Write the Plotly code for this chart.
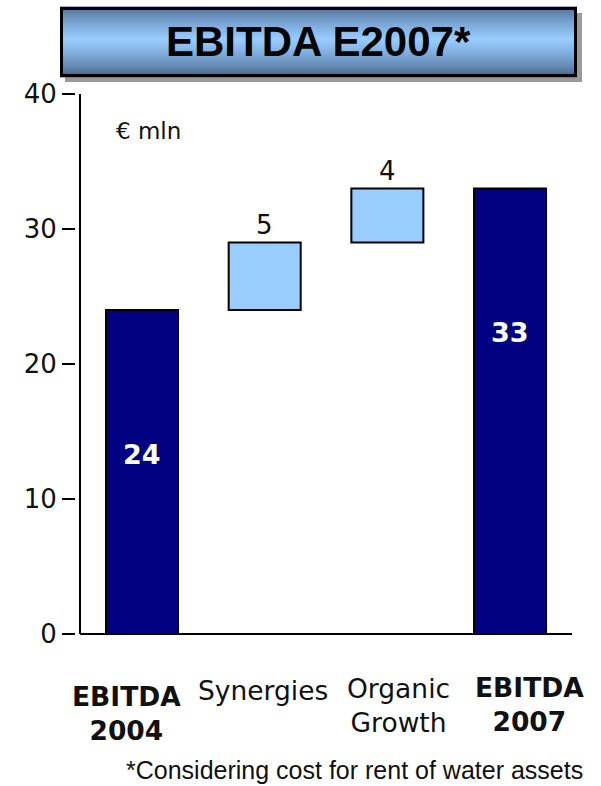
import plotly.graph_objects as go

# ---- data -------------------------------------------------------------
categories = ["EBITDA 2004", "Synergies", "Organic Growth", "EBITDA 2007"]
category_labels = ["<b>EBITDA<br>2004</b>", "Synergies", "Organic<br>Growth", "<b>EBITDA<br>2007</b>"]
values = [24, 5, 4, 33]
measures = ["total", "delta", "delta", "total"]
y_ticks = [0, 10, 20, 30, 40]

# floating bases for the step bars
bases = []
running = 0
for v, m in zip(values, measures):
    if m == "total":
        bases.append(0)
        running = v
    else:
        bases.append(running)
        running += v

# ---- styling ----------------------------------------------------------
W, H = 601, 786
PLOT_L, PLOT_R, PLOT_T, PLOT_B = 76, 572, 94, 634
PLOT_W, PLOT_H = PLOT_R - PLOT_L, PLOT_B - PLOT_T

NAVY = "#000080"
LIGHT = "#99ccff"
bar_colors = [NAVY if m == "total" else LIGHT for m in measures]

SANS = "Verdana, DejaVu Sans, sans-serif"
ARIAL = "Arial, Liberation Sans, sans-serif"

# label placement (style only)
label_xshift = [-16, -2, 11, 19]
label_yshift = [-79.5, -56, -71, -70.5]
inside_label_y = [13.3, None, None, 22.3]


def px_x(px):
    return (px - PLOT_L) / PLOT_W


def px_y(py):
    return (PLOT_B - py) / PLOT_H


fig = go.Figure()
fig.add_trace(
    go.Bar(
        x=categories,
        y=values,
        base=bases,
        width=0.587,
        marker=dict(color=bar_colors, line=dict(color="#000000", width=2)),
        hoverinfo="skip",
    )
)

annotations = []
shapes = []

# value labels
for i, (cat, v, b, m) in enumerate(zip(categories, values, bases, measures)):
    if m == "total":
        annotations.append(dict(
            x=cat, y=inside_label_y[i], xref="x", yref="y", text=f"<b>{v}</b>",
            showarrow=False, font=dict(family=SANS, size=27, color="white"),
            xanchor="center", yanchor="middle",
        ))
    else:
        annotations.append(dict(
            x=cat, y=b + v, xref="x", yref="y", text=str(v),
            showarrow=False, font=dict(family=SANS, size=26, color="#111111"),
            xanchor="center", yanchor="bottom", yshift=1,
        ))

# category labels under the axis
for i, (cat, lab) in enumerate(zip(categories, category_labels)):
    annotations.append(dict(
        x=cat, y=0, xref="x", yref="y", text=lab, showarrow=False,
        font=dict(family=SANS, size=26.5, color="#111111"),
        xanchor="center", yanchor="middle",
        xshift=label_xshift[i], yshift=label_yshift[i],
    ))

# unit label
annotations.append(dict(
    x=px_x(148), y=px_y(131), xref="paper", yref="paper", text="€ mln",
    showarrow=False, font=dict(family=SANS, size=23, color="#111111"),
    xanchor="center", yanchor="middle",
))

# footnote
annotations.append(dict(
    x=px_x(354), y=px_y(770), xref="paper", yref="paper",
    text="*Considering cost for rent of water assets",
    showarrow=False, font=dict(family=ARIAL, size=25, color="#111111"),
    xanchor="center", yanchor="middle",
))

# axis lines
shapes.append(dict(type="line", xref="paper", yref="paper",
                   x0=px_x(80), x1=px_x(80), y0=0, y1=1,
                   line=dict(color="#000000", width=2)))
shapes.append(dict(type="line", xref="paper", yref="paper",
                   x0=px_x(80), x1=1, y0=0, y1=0,
                   line=dict(color="#000000", width=2)))

# title banner: shadow, gradient body, frame
BX0, BX1, BY0, BY1 = 60, 577, 7, 77
shapes.append(dict(type="rect", xref="paper", yref="paper",
                   x0=px_x(BX0 + 5), x1=px_x(BX1 + 5), y0=px_y(BY0 + 6), y1=px_y(BY1 + 5),
                   fillcolor="#9a9a9a", line=dict(width=0)))

dark_top = (70, 100, 138)
dark_bot = (62, 92, 126)
light = (153, 204, 255)
n = 35
step = (BY1 - BY0) / n
for k in range(n):
    t = (k + 0.5) / n
    peak = 0.47
    if t < peak:
        f = t / peak
        c0 = dark_top
    else:
        f = (1 - t) / (1 - peak)
        c0 = dark_bot
    f = f ** 0.7
    col = tuple(int(round(c0[j] + (light[j] - c0[j]) * f)) for j in range(3))
    y0 = BY0 + k * step
    shapes.append(dict(type="rect", xref="paper", yref="paper",
                       x0=px_x(BX0), x1=px_x(BX1),
                       y0=px_y(y0 - 0.4), y1=px_y(y0 + step + 0.4),
                       fillcolor="rgb(%d,%d,%d)" % col, line=dict(width=0)))
shapes.append(dict(type="rect", xref="paper", yref="paper",
                   x0=px_x(BX0 + 1.5), x1=px_x(BX1 - 1.5), y0=px_y(BY0 + 1.5), y1=px_y(BY1 - 1.5),
                   fillcolor="rgba(0,0,0,0)", line=dict(color="#000000", width=3)))

annotations.append(dict(
    x=px_x((BX0 + BX1) / 2), y=px_y(42), xref="paper", yref="paper",
    text="<b>EBITDA E2007*</b>", showarrow=False,
    font=dict(family=ARIAL, size=42, color="#050505"),
    xanchor="center", yanchor="middle",
))

fig.update_layout(
    width=W, height=H, autosize=False,
    margin=dict(l=PLOT_L, r=W - PLOT_R, t=PLOT_T, b=H - PLOT_B, pad=0),
    paper_bgcolor="white", plot_bgcolor="white",
    showlegend=False,
    annotations=annotations,
    shapes=shapes,
    xaxis=dict(
        type="category", range=[-0.538, 3.505],
        showticklabels=False, ticks="", showgrid=False, zeroline=False, showline=False,
    ),
    yaxis=dict(
        range=[0, 40], tickvals=y_ticks, ticks="outside", ticklen=13, tickwidth=1.5,
        tickcolor="#000000", showgrid=False, zeroline=False, showline=False,
        tickfont=dict(family=SANS, size=26, color="#111111"),
        ticklabelstandoff=0,
    ),
)

fig.write_html("out.html")
